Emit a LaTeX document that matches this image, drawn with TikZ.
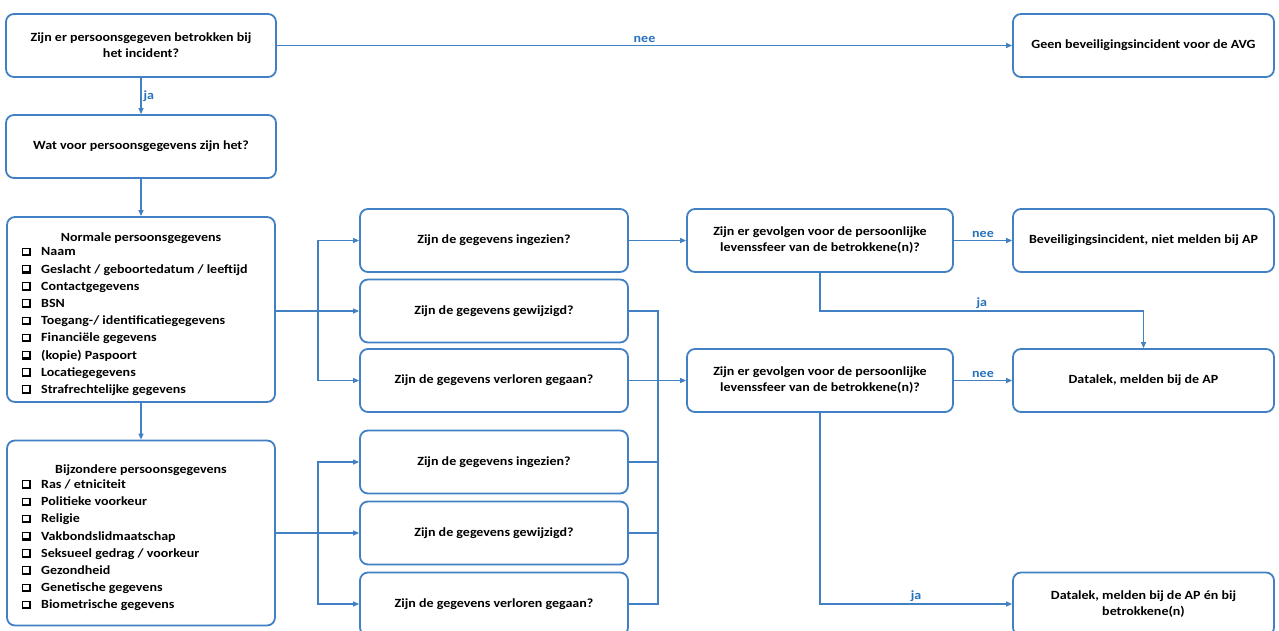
\documentclass[tikz,border=0pt]{standalone}
\usepackage{fontspec}
\setmainfont{Carlito}[FakeStretch=1.12]
\usetikzlibrary{arrows.meta}
\definecolor{bl}{RGB}{66,128,196}
\definecolor{lbl}{RGB}{40,115,190}
\newcommand{\cb}{\makebox[19pt][l]{\rlap{\rule[-0.5pt]{8.5pt}{8.5pt}}\hspace{1pt}\rlap{\color{white}\rule[1.6pt]{5.4pt}{5.4pt}}}}
\begin{document}
\begin{tikzpicture}[x=1pt,y=-1pt,
  box/.style={draw=bl,line width=1.8pt,rounded corners=8pt,align=center,
    font=\fontsize{12.5}{16}\selectfont\bfseries,inner sep=0pt},
  conn/.style={draw=bl,line width=1.2pt},
  arr/.style={conn,-{Triangle[length=6pt,width=5pt]}},
  lab/.style={text=lbl,font=\fontsize{12.5}{13}\selectfont\bfseries,inner sep=2pt},
  hdr/.style={inner sep=0pt,font=\fontsize{12.5}{14}\selectfont\bfseries},
  lst/.style={align=left,anchor=north west,inner sep=0pt,
    font=\fontsize{12.5}{17.2}\selectfont\bfseries}]
\useasboundingbox (0,0) rectangle (1279,630);
\fill[white] (0,0) rectangle (1279,630);
% left column
\node[box,minimum width=270,minimum height=63] (A) at (141,45.5) {Zijn er persoonsgegeven betrokken bij\\het incident?};
\node[box,minimum width=261,minimum height=63] (B) at (1143.5,45.5) {Geen beveiligingsincident voor de AVG};
\node[box,minimum width=270,minimum height=63] (C) at (141,146.5) {Wat voor persoonsgegevens zijn het?};
\node[box,minimum width=268,minimum height=185] (D) at (141,309.5) {};
\node[box,minimum width=268,minimum height=185] (E) at (141,533) {};
\node[hdr] (Dh) at (141,238) {Normale persoonsgegevens};
\node[lst] (Dl) at (22,247.5) {\cb Naam\\\cb Geslacht / geboortedatum / leeftijd\\\cb Contactgegevens\\\cb BSN\\\cb Toegang-/ identificatiegegevens\\\cb Financiële gegevens\\\cb (kopie) Paspoort\\\cb Locatiegegevens\\\cb Strafrechtelijke gegevens};
\node[hdr] (Eh) at (141,470) {Bijzondere persoonsgegevens};
\node[lst] (El) at (22,479.5) {\cb Ras / etniciteit\\\cb Politieke voorkeur\\\cb Religie\\\cb Vakbondslidmaatschap\\\cb Seksueel gedrag / voorkeur\\\cb Gezondheid\\\cb Genetische gegevens\\\cb Biometrische gegevens};
% middle column
\node[box,minimum width=268,minimum height=63] (M1) at (494,240.5) {Zijn de gegevens ingezien?};
\node[box,minimum width=268,minimum height=63] (M2) at (494,311) {Zijn de gegevens gewijzigd?};
\node[box,minimum width=268,minimum height=63] (M3) at (494,380.5) {Zijn de gegevens verloren gegaan?};
\node[box,minimum width=268,minimum height=63] (M4) at (494,462) {Zijn de gegevens ingezien?};
\node[box,minimum width=268,minimum height=63] (M5) at (494,533) {Zijn de gegevens gewijzigd?};
\node[box,minimum width=268,minimum height=63] (M6) at (494,604) {Zijn de gegevens verloren gegaan?};
% right columns
\node[box,minimum width=266,minimum height=63] (Q1) at (820,240.5) {Zijn er gevolgen voor de persoonlijke\\levenssfeer van de betrokkene(n)?};
\node[box,minimum width=266,minimum height=63] (Q2) at (820,380.5) {Zijn er gevolgen voor de persoonlijke\\levenssfeer van de betrokkene(n)?};
\node[box,minimum width=261,minimum height=63] (R1) at (1143.5,240.5) {Beveiligingsincident, niet melden bij AP};
\node[box,minimum width=261,minimum height=63] (R2) at (1143.5,380.5) {Datalek, melden bij de AP};
\node[box,minimum width=261,minimum height=63] (R3) at (1143.5,604) {Datalek, melden bij de AP én bij\\betrokkene(n)};
% connectors
\draw[arr] (A.east) -- node[lab,above]{nee} (B.west);
\draw[arr] (A.south) -- node[lab,right]{ja} (C.north);
\draw[arr] (C.south) -- (D.north);
\draw[arr] (D.south) -- (E.north);
\coordinate (jD) at (318,311);
\coordinate (jE) at (318,533);
\draw[arr] (D.east|-jD) -- (M2.west);
\draw[arr] (jD) |- (M1.west);
\draw[arr] (jD) |- (M3.west);
\draw[arr] (E.east|-jE) -- (M5.west);
\draw[arr] (jE) |- (M4.west);
\draw[arr] (jE) |- (M6.west);
\coordinate (cT) at (658,311);
\coordinate (cB) at (658,604);
\draw[conn] (M2.east) -- (cT) -- (cB) -- (M6.east);
\draw[conn] (M4.east) -- (M4.east-|cT);
\draw[conn] (M5.east) -- (M5.east-|cT);
\draw[arr] (M1.east) -- (Q1.west);
\draw[arr] (M3.east) -- (Q2.west);
\draw[arr] (Q1.east) -- node[lab,above]{nee} (R1.west);
\draw[arr] (Q2.east) -- node[lab,above]{nee} (R2.west);
\coordinate (qj) at (820,311);
\draw[arr] (Q1.south) -- (qj) -| node[lab,above,pos=0.25]{ja} (R2.north);
\draw[arr] (Q2.south) |- node[lab,above,pos=0.75]{ja} (R3.west);
\end{tikzpicture}
\end{document}
